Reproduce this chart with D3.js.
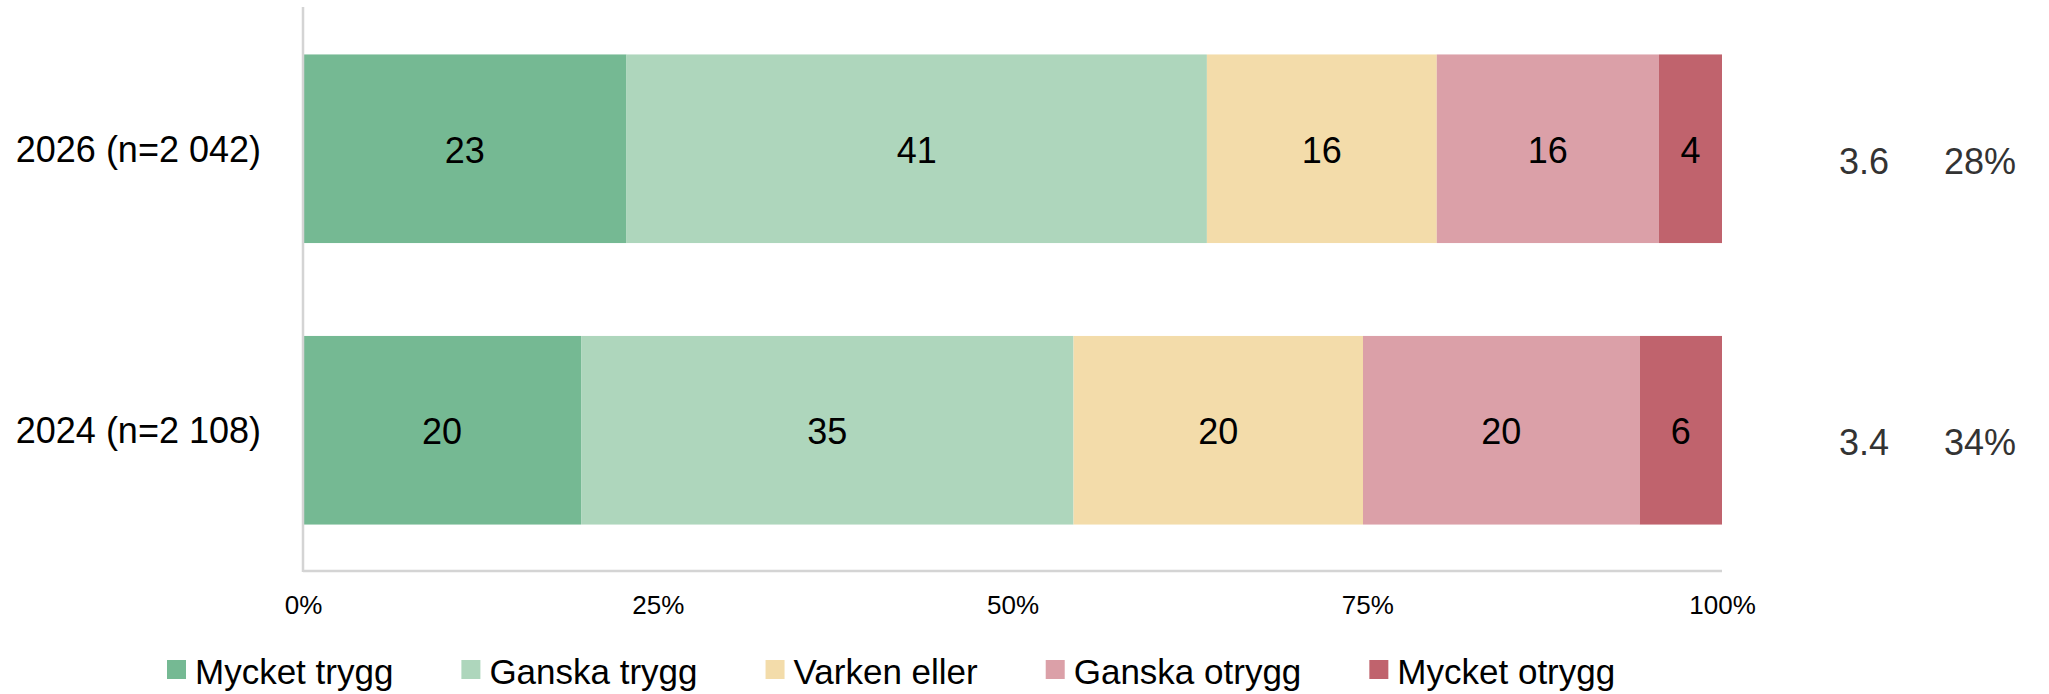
<!DOCTYPE html>
<html>
<head>
<meta charset="utf-8">
<script src="https://cdn.jsdelivr.net/npm/d3@7"></script>
<style>
  html, body { margin: 0; padding: 0; background: #fff; }
  svg { display: block; font-family: "Liberation Sans", Arial, sans-serif; }
</style>
</head>
<body>
<div id="chart"></div>
<script>
// Trygghet, andel per svarsalternativ
const categories = ['2026 (n=2 042)', '2024 (n=2 108)'];
const seriesNames = ['Mycket trygg', 'Ganska trygg', 'Varken eller', 'Ganska otrygg', 'Mycket otrygg'];
const seriesColors = ['#75b993', '#aed6bc', '#f3dcaa', '#dba0a8', '#c0636d'];

// bar widths and the printed labels
const shares2026 = [22.8, 40.9, 16.2, 15.65, 4.45];
const shares2024 = [19.6, 34.7, 20.4, 19.5, 5.8];
const labels2026 = [23, 41, 16, 16, 4];
const labels2024 = [20, 35, 20, 20, 6];

// right-hand columns
const meanValues = ['3.6', '3.4'];
const unsafeShares = ['28%', '34%'];

const tickValues = [0, 25, 50, 75, 100];

const width = 2049;
const height = 694;
const plot = { left: 303, right: 1722, top: 8, bottom: 571 };

const rows = [
    { cat: categories[0], shares: shares2026, labels: labels2026, mean: meanValues[0], unsafe: unsafeShares[0] },
    { cat: categories[1], shares: shares2024, labels: labels2024, mean: meanValues[1], unsafe: unsafeShares[1] }
];

// table for d3.stack
const table = rows.map(r => {
    const o = { cat: r.cat };
    seriesNames.forEach((s, i) => { o[s] = r.shares[i]; });
    return o;
});
const stacked = d3.stack().keys(seriesNames)(table);

const x = d3.scaleLinear().domain([0, 100]).range([plot.left, plot.right]);
const y = d3.scaleBand().domain(categories).range([plot.top, plot.bottom])
    .paddingInner(0.33).paddingOuter(0.165);
const color = d3.scaleOrdinal().domain(seriesNames).range(seriesColors);

const svg = d3.select('#chart').append('svg')
    .attr('width', width)
    .attr('height', height)
    .attr('viewBox', `0 0 ${width} ${height}`);

// Bars
stacked.forEach((layer, li) => {
    const g = svg.append('g').attr('fill', color(layer.key));
    g.selectAll('rect')
        .data(layer)
        .join('rect')
        .attr('x', d => x(d[0]))
        .attr('y', d => y(d.data.cat))
        .attr('width', d => x(d[1]) - x(d[0]))
        .attr('height', y.bandwidth());

    svg.append('g').selectAll('text')
        .data(layer)
        .join('text')
        .attr('x', d => (x(d[0]) + x(d[1])) / 2)
        .attr('y', (d, i) => y(d.data.cat) + y.bandwidth() / 2 + 14)
        .attr('text-anchor', 'middle')
        .attr('font-size', 36)
        .attr('fill', '#000')
        .text((d, i) => rows[i].labels[li]);
});

// Axis lines
svg.append('line')
    .attr('x1', plot.left).attr('x2', plot.left)
    .attr('y1', plot.top - 1).attr('y2', plot.bottom + 1)
    .attr('stroke', '#d4d4d4').attr('stroke-width', 2.5);
svg.append('line')
    .attr('x1', plot.left).attr('x2', plot.right)
    .attr('y1', plot.bottom).attr('y2', plot.bottom)
    .attr('stroke', '#d4d4d4').attr('stroke-width', 2.5);

// X ticks
const xAxis = svg.append('g')
    .attr('transform', `translate(0, ${plot.bottom})`)
    .call(d3.axisBottom(x).tickValues(tickValues).tickSize(0).tickFormat(d => d + '%'));
xAxis.select('.domain').remove();
xAxis.selectAll('text')
    .attr('y', 43).attr('dy', null)
    .attr('font-size', 26)
    .attr('font-family', '"Liberation Sans", Arial, sans-serif')
    .attr('fill', '#000');

// Category labels
svg.append('g').selectAll('text')
    .data(rows)
    .join('text')
    .attr('x', 261)
    .attr('y', d => y(d.cat) + y.bandwidth() / 2 + 13)
    .attr('text-anchor', 'end')
    .attr('font-size', 36)
    .attr('fill', '#000')
    .text(d => d.cat);

// Right-hand columns
svg.append('g').selectAll('text')
    .data(rows)
    .join('text')
    .attr('x', 1864)
    .attr('y', d => y(d.cat) + y.bandwidth() / 2 + 25)
    .attr('text-anchor', 'middle')
    .attr('font-size', 36)
    .attr('fill', '#333')
    .text(d => d.mean);
svg.append('g').selectAll('text')
    .data(rows)
    .join('text')
    .attr('x', 1980)
    .attr('y', d => y(d.cat) + y.bandwidth() / 2 + 25)
    .attr('text-anchor', 'middle')
    .attr('font-size', 36)
    .attr('fill', '#333')
    .text(d => d.unsafe);

// Legend
const legend = svg.append('g').attr('class', 'legend');
let lx = 167;
seriesNames.forEach(name => {
    const item = legend.append('g').attr('transform', `translate(${lx}, 0)`);
    item.append('rect')
        .attr('x', 0).attr('y', 660)
        .attr('width', 19).attr('height', 19)
        .attr('fill', color(name));
    const t = item.append('text')
        .attr('x', 28).attr('y', 684)
        .attr('font-size', 35)
        .attr('fill', '#000')
        .text(name);
    lx += 28 + t.node().getComputedTextLength() + 68;
});
</script>
</body>
</html>
